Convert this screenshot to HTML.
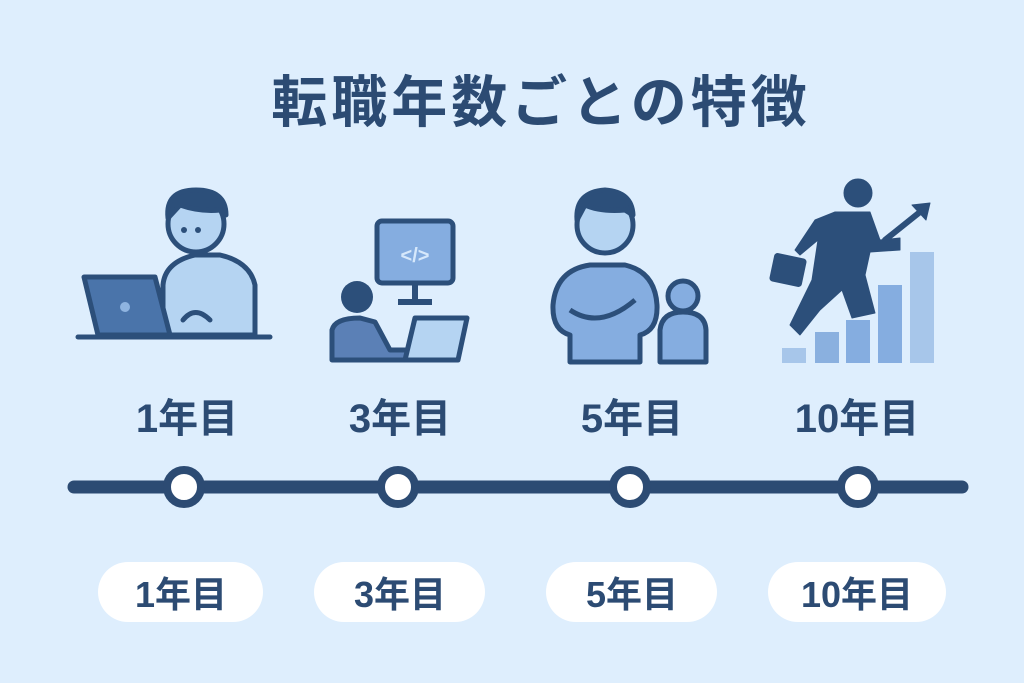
<!DOCTYPE html>
<html><head><meta charset="utf-8"><style>
html,body{margin:0;padding:0;background:#deeefd;}
svg{display:block}
text{font-family:"Liberation Sans","Noto Sans CJK JP",sans-serif;font-weight:bold;fill:#2c4b73}
</style></head><body>
<svg width="1024" height="683" viewBox="0 0 1024 683">
<rect width="1024" height="683" fill="#deeefd"/>
<text x="541" y="122" font-size="56" text-anchor="middle" letter-spacing="4">転職年数ごとの特徴</text>

<!-- fig1 -->
<g stroke="#2c4f7a" stroke-width="5" stroke-linejoin="round" stroke-linecap="round">
<path d="M163 335 L163 285 Q165 262 195 255 L220 255 Q250 262 255 285 L255 335 Z" fill="#b5d4f2"/>
<circle cx="196" cy="224" r="28" fill="#b5d4f2"/>
<path d="M168 218 Q165 190 196 190 Q226 190 226 215 L220 210 Q200 212 180 205 Z" fill="#2c4f7a"/>
<path d="M84 277 L155 277 L170 335 L98 335 Z" fill="#4a74aa"/>
<line x1="78" y1="337" x2="270" y2="337"/>
<path d="M183 320 Q195 305 210 320" fill="#b5d4f2"/>
</g>
<circle cx="125" cy="307" r="5" fill="#8fb4e0"/>
<circle cx="184" cy="230" r="3" fill="#2c4f7a"/><circle cx="198" cy="230" r="3" fill="#2c4f7a"/>

<!-- fig2 -->
<g stroke="#2c4f7a" stroke-width="5" stroke-linejoin="round">
<rect x="377" y="221" width="76" height="62" rx="5" fill="#85ade0"/>
<line x1="415" y1="285" x2="415" y2="300" stroke-width="6"/>
<line x1="398" y1="302" x2="432" y2="302" stroke-width="6"/>
<path d="M332 360 L332 330 Q335 318 360 318 L375 322 L390 350 L415 350 L415 360 Z" fill="#5b80b6"/>
<path d="M415 318 L467 318 L458 360 L405 360 Z" fill="#b5d4f2"/>
</g>
<circle cx="357" cy="297" r="16" fill="#2c4f7a"/>
<text x="415" y="262" font-size="20" text-anchor="middle" style="fill:#d6e8fb">&lt;/&gt;</text>

<!-- fig3 -->
<g stroke="#2c4f7a" stroke-width="5" stroke-linejoin="round">
<path d="M570 362 L570 335 Q552 330 553 305 Q556 270 590 265 L625 265 Q655 272 657 305 Q658 330 640 335 L640 362 Z" fill="#85ade0"/>
<circle cx="605" cy="225" r="28" fill="#b5d4f2"/>
<path d="M577 220 Q575 192 605 190 Q632 192 633 215 L625 210 Q600 212 585 205 Z" fill="#2c4f7a"/>
<path d="M570 310 Q600 330 635 300" fill="none"/>
<path d="M660 362 L660 330 Q662 312 683 312 Q705 312 706 330 L706 362 Z" fill="#85ade0"/>
<circle cx="683" cy="296" r="15" fill="#85ade0"/>
</g>

<!-- fig4 -->
<rect x="782" y="348" width="24" height="15" fill="#a7c6ea"/>
<rect x="815" y="332" width="24" height="31" fill="#8ab0df"/>
<rect x="846" y="320" width="24" height="43" fill="#85ade0"/>
<rect x="878" y="285" width="24" height="78" fill="#85ade0"/>
<rect x="910" y="252" width="24" height="111" fill="#a7c6ea"/>
<g fill="#2c4f7a" stroke="#2c4f7a" stroke-linecap="round" stroke-linejoin="round">
<circle cx="858" cy="193" r="14"/>
<path d="M835 212 L870 212 L880 240 L900 238 L900 250 L870 252 L865 275 L875 313 L852 318 L842 290 L820 310 L800 335 L790 325 L812 280 L818 240 L800 255 L795 250 L815 220 Z"/>
<rect x="772" y="256" width="32" height="28" rx="3" transform="rotate(12 788 270)"/>
<line x1="885" y1="240" x2="925" y2="208" stroke-width="6" fill="none"/>
<path d="M930 203 L912 205 L926 220 Z"/>
</g>

<text x="187" y="432" font-size="40" text-anchor="middle">1年目</text>
<text x="400" y="432" font-size="40" text-anchor="middle">3年目</text>
<text x="632" y="432" font-size="40" text-anchor="middle">5年目</text>
<text x="857" y="432" font-size="40" text-anchor="middle">10年目</text>

<line x1="74" y1="487" x2="962" y2="487" stroke="#2c4b73" stroke-width="13" stroke-linecap="round"/>
<g fill="#fff" stroke="#2c4b73" stroke-width="8">
<circle cx="184" cy="487" r="17"/><circle cx="398" cy="487" r="17"/>
<circle cx="630" cy="487" r="17"/><circle cx="858" cy="487" r="17"/>
</g>

<g fill="#fff">
<rect x="98" y="562" width="165" height="60" rx="30"/>
<rect x="314" y="562" width="171" height="60" rx="30"/>
<rect x="546" y="562" width="171" height="60" rx="30"/>
<rect x="768" y="562" width="178" height="60" rx="30"/>
</g>
<text x="181" y="607" font-size="36" text-anchor="middle">1年目</text>
<text x="400" y="607" font-size="36" text-anchor="middle">3年目</text>
<text x="632" y="607" font-size="36" text-anchor="middle">5年目</text>
<text x="857" y="607" font-size="36" text-anchor="middle">10年目</text>
</svg>
</body></html>
